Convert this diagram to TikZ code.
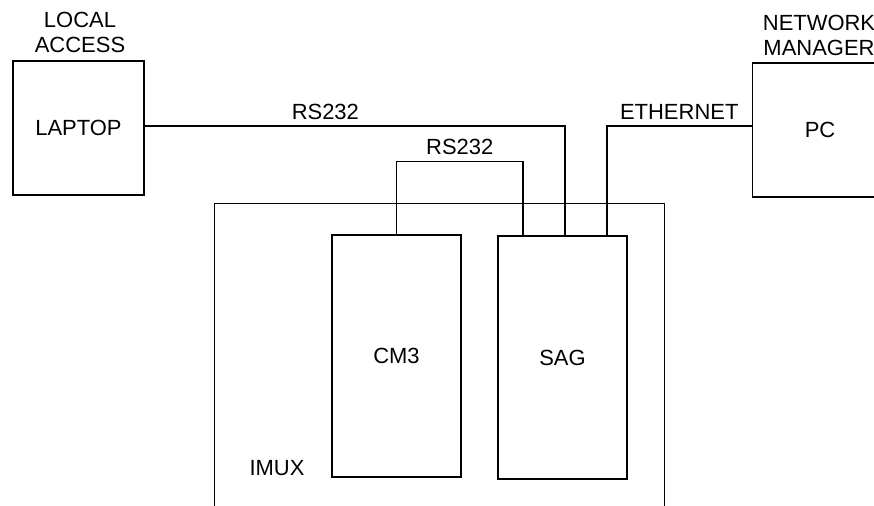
\documentclass[tikz,border=0pt]{standalone}
\usepackage{fontspec}
\setmainfont{Liberation Sans}
\usetikzlibrary{positioning}

\begin{document}
\begin{tikzpicture}[
    x=0.02cm, y=-0.02cm,
    % Styles
    unitbox/.style={
        rectangle,
        draw=black,
        line width=0.6pt,
        inner sep=0pt
    },
    caption/.style={
        font=\fontsize{12.5}{14.2}\selectfont,
        align=center
    },
    wire/.style={
        line width=0.6pt
    }
]
\useasboundingbox (0,0) rectangle (874,506);
\clip (0,0) rectangle (874,506);

% Laptop
\node[unitbox, minimum width=2.62cm, minimum height=2.68cm, caption] (laptop) at (78.5,128) {LAPTOP};
\node[caption] (laptop_lbl) at (80,32) {LOCAL\\ACCESS};

% Network manager PC
\node[unitbox, minimum width=2.76cm, minimum height=2.68cm] (pc) at (821,130) {};
\node[caption] at (820,130) {PC};
\node[caption] (pc_lbl) at (819,35) {NETWORK\\MANAGER};

% IMUX enclosure
\node[unitbox, minimum width=9.02cm, minimum height=6.54cm] (imux) at (439.5,366.5) {};
\node[caption] (imux_lbl) at (277,468) {IMUX};

% Cards
\node[unitbox, minimum width=2.58cm, minimum height=4.84cm, caption] (cm3) at (396.5,356) {CM3};
\node[unitbox, minimum width=2.58cm, minimum height=4.86cm, caption] (sag) at (562.5,357.5) {SAG};

% Laptop to SAG
\draw[wire] ([yshift=0.04cm]laptop.east) -| ([xshift=0.05cm]sag.north)
    node[caption, pos=0.215, above=0pt] (rs_a) {RS232};

% CM3 to SAG
\draw[wire] (cm3.north) -- ++(0,-73) -| ([xshift=-0.79cm]sag.north)
    node[caption, pos=0.25, above=0pt] (rs_b) {RS232};

% PC to SAG
\draw[wire] ([yshift=0.08cm]pc.west) -| ([xshift=0.89cm]sag.north)
    node[caption, pos=0.25, above=0pt] (eth) {ETHERNET};

\end{tikzpicture}
\end{document}
